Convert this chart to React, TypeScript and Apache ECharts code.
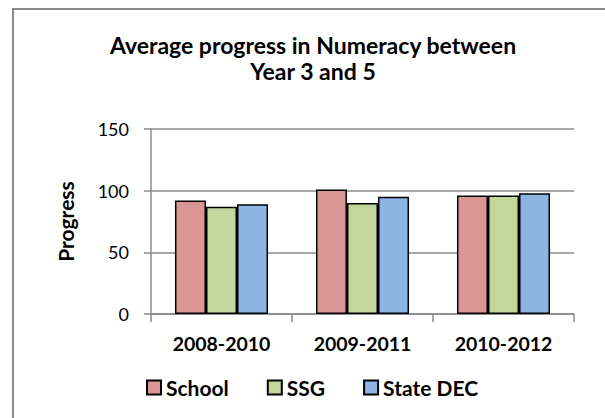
import React, { useEffect, useRef } from "react";
import * as echarts from "echarts";

const categories = ["2008-2010", "2009-2011", "2010-2012"];
const seriesNames = ["School", "SSG", "State DEC"];
const schoolValues = [92, 101, 96];
const ssgValues = [87, 90, 96];
const stateValues = [89, 95, 98];
const colors = ["#D99694", "#C3D69B", "#8EB4E3"];
const yTicks = { min: 0, max: 150, interval: 50 };

const FONT = "Lato";

export default function App() {
  const ref = useRef<HTMLDivElement>(null);
  useEffect(() => {
    if (!ref.current) return;
    const chart = echarts.init(ref.current, undefined, { renderer: "svg" });
    const values = [schoolValues, ssgValues, stateValues];
    chart.setOption({
      animation: false,
      backgroundColor: "#ffffff",
      textStyle: { fontFamily: FONT },
      title: {
        text: "Average progress in Numeracy between\nYear 3 and 5",
        left: 308,
        textAlign: "center",
        top: 27,
        textStyle: {
          fontFamily: FONT,
          fontWeight: "bold",
          fontSize: 23,
          lineHeight: 26,
          color: "#000",
        },
      },
      graphic: [
        {
          type: "rect",
          shape: { x: 13, y: 9, width: 700, height: 500 },
          style: { fill: "none", stroke: "#8a8a8a", lineWidth: 2 },
          silent: true,
        },
      ],
      legend: {
        data: seriesNames,
        top: 372,
        left: 141,
        icon: "rect",
        itemWidth: 14,
        itemHeight: 14,
        itemGap: 38,
        textStyle: { fontFamily: FONT, fontWeight: "bold", fontSize: 21, color: "#000" },
      },
      grid: { left: 151, right: 31, top: 129, bottom: 104 },
      xAxis: {
        type: "category",
        data: categories,
        axisLine: { lineStyle: { color: "#8a8a8a", width: 1.5 } },
        axisTick: { show: true, length: 8, lineStyle: { color: "#8a8a8a", width: 1.5 } },
        axisLabel: { fontFamily: FONT, fontWeight: "bold", fontSize: 19.5, color: "#000", margin: 19 },
      },
      yAxis: {
        type: "value",
        min: yTicks.min,
        max: yTicks.max,
        interval: yTicks.interval,
        name: "Progress",
        nameLocation: "middle",
        nameGap: 75,
        nameTextStyle: { fontFamily: FONT, fontWeight: "bold", fontSize: 21, color: "#000" },
        axisLine: { show: true, lineStyle: { color: "#8a8a8a", width: 1.5 } },
        axisTick: { show: true, length: 7, lineStyle: { color: "#8a8a8a", width: 1.5 } },
        axisLabel: { fontFamily: FONT, fontSize: 18, color: "#000", margin: 22 },
        splitLine: { show: true, lineStyle: { color: "#8a8a8a", width: 1.5 } },
      },
      series: seriesNames.map((name, i) => ({
        name,
        type: "bar",
        data: values[i],
        barGap: "0%",
        barCategoryGap: "34%",
        itemStyle: { color: colors[i], borderColor: "#000", borderWidth: 1.5 },
      })),
    });
    return () => chart.dispose();
  }, []);
  return (
    <div
      ref={ref}
      style={{ position: "fixed", left: 0, top: 0, width: 605, height: 418 }}
    />
  );
}
